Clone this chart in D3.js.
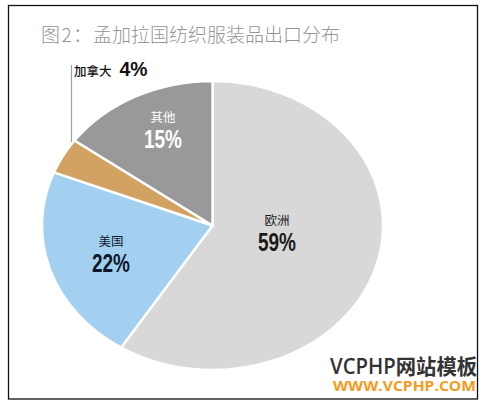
<!DOCTYPE html>
<html><head><meta charset="utf-8">
<script src="https://cdn.jsdelivr.net/npm/d3@7/dist/d3.min.js"></script>
<style>html,body{margin:0;padding:0;background:#fff}svg{display:block}
text{font-family:"Noto Sans CJK SC","Noto Sans",sans-serif}
.pct{font-family:"Liberation Sans",sans-serif;font-weight:700}</style>
</head><body><svg id="c" width="484" height="403"></svg>
<script>
const categories = ["欧洲","美国","","其他"];
const values = [59,22,4,15];
const valueLabels = ["59%","22%","","15%"];
const colors = ["#d8d8d8","#a3d0f1","#d2a263","#999999"];
const textColors = ["#1a1a1a","#10182a","#000","#ffffff"];
const titlePrefix = "图2：";
const titleText = "孟加拉国纺织服装品出口分布";
const calloutName = "加拿大", calloutValue = "4%";

const svg = d3.select("#c");
svg.append("rect").attr("x",8.5).attr("y",5.5).attr("width",469).attr("height",393.5)
  .attr("fill","#fff").attr("stroke","#111").attr("stroke-width",1.3);

svg.append("text").attr("x",41).attr("y",42).attr("font-size",19).attr("font-weight",300).attr("fill","#959595")
  .attr("textLength",51).attr("lengthAdjust","spacing").text(titlePrefix);
svg.append("text").attr("x",93).attr("y",42).attr("font-size",19).attr("font-weight",300).attr("fill","#959595").text(titleText);

const cx=212.5, cy=225.5, rx=170.5, ry=144.5;
const pie=d3.pie().sort(null)(values);
const arc=d3.arc().innerRadius(0).outerRadius(ry);
const g=svg.append("g").attr("transform",`translate(${cx},${cy}) scale(${rx/ry},1)`);
g.selectAll("path").data(pie).join("path").attr("d",arc).attr("fill",(d,i)=>colors[i])
  .attr("stroke","#fff").attr("stroke-width",2.4).attr("vector-effect","non-scaling-stroke");

const labelPos=[[277,225],[111,246],null,[163,122]];
categories.forEach((c,i)=>{
  if(!labelPos[i])return;
  const [x,y]=labelPos[i];
  svg.append("text").attr("x",x).attr("y",y).attr("text-anchor","middle").attr("font-size",12.5)
    .attr("fill",textColors[i]).text(c);
  svg.append("text").attr("class","pct").attr("x",x-19).attr("y",y+25.5)
    .attr("font-size",25).attr("fill",textColors[i])
    .attr("textLength",38).attr("lengthAdjust","spacingAndGlyphs").text(valueLabels[i]);
});

svg.append("line").attr("x1",71.5).attr("x2",71.5).attr("y1",65).attr("y2",142)
  .attr("stroke","#a0a0a0").attr("stroke-width",1.2);
svg.append("text").attr("x",74).attr("y",76).attr("font-size",12.5).attr("font-weight",500).attr("fill","#111").text(calloutName);
svg.append("text").attr("class","pct").attr("x",119.5).attr("y",76).attr("font-size",20.5).attr("fill","#111")
  .attr("textLength",28).attr("lengthAdjust","spacingAndGlyphs").text(calloutValue);

svg.append("text").attr("x",330).attr("y",374).attr("font-size",21).attr("font-weight",600).attr("fill","#333")
  .attr("textLength",147).attr("lengthAdjust","spacingAndGlyphs")
  .attr("style",'font-family:"Open Sans","Noto Sans CJK SC",sans-serif').text("VCPHP网站模板");
svg.append("text").attr("x",333).attr("y",391).attr("font-size",15).attr("font-weight",700).attr("fill","#f59a1b")
  .attr("textLength",143).attr("lengthAdjust","spacingAndGlyphs")
  .attr("style",'font-family:"Open Sans",sans-serif').text("WWW.VCPHP.COM");
</script></body></html>
